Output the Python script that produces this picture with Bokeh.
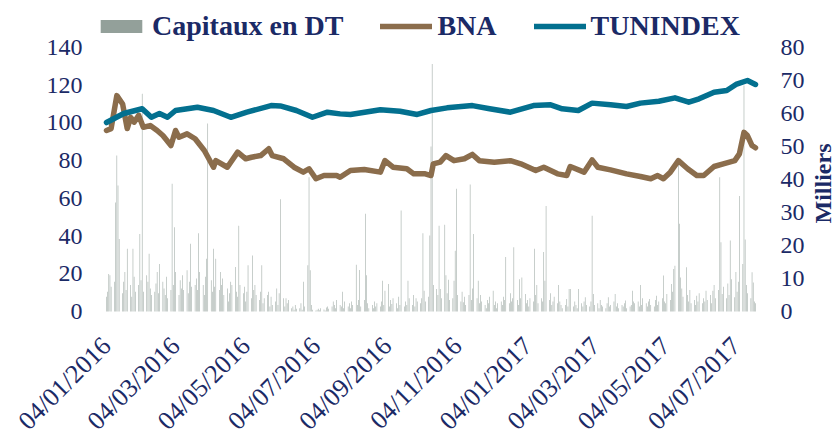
import math
import pandas as pd
from bokeh.plotting import figure
from bokeh.models import (Range1d, LinearAxis, FixedTicker, DatetimeTickFormatter,
                          Legend, LegendItem)
from bokeh.embed import file_html
from bokeh.resources import INLINE

# ---------------- data ----------------
tick_dates = ["2016-01-04", "2016-03-04", "2016-05-04", "2016-07-04", "2016-09-04",
              "2016-11-04", "2017-01-04", "2017-03-04", "2017-05-04", "2017-07-04"]
left_ticks = [0, 20, 40, 60, 80, 100, 120, 140]
right_ticks = [0, 10, 20, 30, 40, 50, 60, 70, 80]

tun_dates = ["2016-01-04", "2016-01-19", "2016-02-04", "2016-02-12", "2016-02-19", "2016-02-26",
             "2016-03-04", "2016-03-23", "2016-04-06", "2016-04-21", "2016-05-05", "2016-05-26",
             "2016-06-03", "2016-06-17", "2016-07-01", "2016-07-14", "2016-07-25", "2016-08-03",
             "2016-08-29", "2016-09-15", "2016-09-30", "2016-10-12", "2016-10-26", "2016-11-17",
             "2016-12-02", "2016-12-20", "2017-01-09", "2017-01-24", "2017-02-03", "2017-02-17",
             "2017-03-01", "2017-03-17", "2017-03-31", "2017-04-12", "2017-04-28", "2017-05-12",
             "2017-05-24", "2017-06-02", "2017-06-15", "2017-06-26", "2017-07-04", "2017-07-14",
             "2017-07-21"]
tun_values = [100.2, 105.0, 107.5, 103.0, 105.0, 103.0,
              106.6, 108.3, 106.6, 103.0, 105.7, 109.2,
              109.0, 106.6, 103.0, 105.7, 104.8, 104.5,
              107.0, 106.2, 104.5, 106.6, 108.0, 109.2,
              107.5, 105.7, 109.2, 109.6, 107.5, 106.6,
              110.5, 109.6, 108.7, 110.5, 111.5, 113.3,
              111.0, 112.8, 116.3, 117.2, 120.4, 122.5,
              120.4]

bna_dates = ["2016-01-04", "2016-01-08", "2016-01-13", "2016-01-18", "2016-01-22", "2016-01-25",
             "2016-01-28", "2016-02-01", "2016-02-05", "2016-02-11", "2016-02-17", "2016-02-22",
             "2016-02-29", "2016-03-04", "2016-03-07", "2016-03-14", "2016-03-21", "2016-03-29",
             "2016-04-06", "2016-04-08", "2016-04-18", "2016-04-27", "2016-05-04", "2016-05-09",
             "2016-05-17", "2016-05-24", "2016-05-27", "2016-06-06", "2016-06-15", "2016-06-23",
             "2016-06-28", "2016-07-04", "2016-07-11", "2016-07-22", "2016-07-25", "2016-08-03",
             "2016-08-15", "2016-08-29", "2016-09-02", "2016-09-09", "2016-09-21", "2016-09-27",
             "2016-10-07", "2016-10-12", "2016-10-14", "2016-10-20", "2016-10-25", "2016-11-01",
             "2016-11-10", "2016-11-17", "2016-11-23", "2016-12-06", "2016-12-20", "2016-12-29",
             "2017-01-11", "2017-01-18", "2017-01-30", "2017-02-07", "2017-02-10", "2017-02-22",
             "2017-03-01", "2017-03-06", "2017-03-17", "2017-03-31", "2017-04-12", "2017-04-21",
             "2017-04-27", "2017-05-02", "2017-05-08", "2017-05-15", "2017-05-23", "2017-05-31",
             "2017-06-06", "2017-06-15", "2017-06-23", "2017-07-03", "2017-07-07", "2017-07-11",
             "2017-07-14", "2017-07-18", "2017-07-21"]
bna_values = [96.0, 97.0, 114.5, 110.0, 97.0, 103.0,
              100.4, 104.0, 97.7, 98.6, 96.0, 93.3,
              88.0, 96.0, 92.4, 94.2, 91.6, 85.4,
              76.5, 80.0, 76.5, 84.5, 81.0, 81.8,
              82.7, 86.3, 82.7, 81.0, 76.5, 73.9,
              75.7, 70.4, 72.1, 72.1, 71.2, 74.8,
              75.3, 73.9, 80.0, 76.5, 75.7, 73.0,
              73.0, 72.1, 78.3, 79.2, 82.7, 80.0,
              81.0, 83.3, 80.0, 79.2, 80.0, 78.3,
              74.8, 76.5, 73.0, 72.1, 76.9, 73.9,
              80.4, 76.5, 75.1, 73.0, 71.6, 70.4,
              72.1, 70.4, 73.9, 80.0, 75.7, 72.1,
              72.1, 76.9, 78.3, 80.0, 83.6, 95.0,
              93.3, 88.0, 86.8]

# Daily traded capital (thousands of DT), one row per week (Mon..Fri), 04/01/2016 -> 21/07/2017
vol_values = [
    4.5, 6.0, 11.4, 11.0, 7.5,
    9.0, 33.0, 47.3, 38.2, 22.0,
    5.5, 9.0, 12.0, 6.5, 19.0,
    8.0, 4.5, 19.0, 10.5, 6.0,
    8.0, 23.5, 9.5, 66.0, 6.0,
    11.0, 9.0, 17.5, 7.0, 5.0,
    6.0, 8.5, 12.0, 5.5, 14.4,
    9.0, 7.0, 5.0, 10.5, 4.0,
    6.5, 38.7, 8.0, 25.5, 12.0,
    5.0, 9.5, 7.0, 11.0, 6.5,
    12.5, 5.5, 9.0, 20.5, 7.5,
    8.0, 10.0, 6.5, 23.7, 12.0,
    8.0, 5.0, 10.5, 16.0, 57.0,
    9.5, 6.0, 19.0, 7.5, 16.0,
    6.5, 12.0, 8.0, 10.0, 5.0,
    7.0, 3.0, 5.5, 9.0, 8.0,
    13.5, 6.0, 4.5, 26.0, 8.0,
    5.5, 7.5, 3.0, 6.0, 14.0,
    4.0, 17.0, 6.5, 8.0, 5.0,
    3.5, 6.0, 14.0, 2.5, 4.0,
    5.0, 6.0, 1.5, 4.5, 2.0,
    3.0, 7.0, 2.0, 5.5, 34.0,
    4.0, 1.5, 4.0, 2.5, 3.5,
    1.0, 1.5, 0.5, 2.0, 0.8,
    1.0, 2.5, 0.5, 9.0, 1.5,
    14.0, 40.7, 12.5, 2.0, 0.5,
    0.3, 0.5, 0.8, 0.4, 1.0,
    0.6, 0.3, 1.2, 1.5, 0.8,
    1.5, 3.0, 2.0, 1.0, 3.5,
    2.0, 1.5, 6.0, 1.0, 3.0,
    1.5, 2.5, 1.0, 3.0, 2.0,
    14.2, 2.0, 3.5, 12.6, 1.5,
    3.5, 29.6, 11.0, 2.5, 1.0,
    2.0, 1.0, 3.0, 1.5, 2.5,
    1.5, 3.0, 9.3, 2.0, 6.3,
    8.3, 1.5, 3.5, 2.3, 4.0,
    2.5, 1.0, 4.5, 2.0, 30.6,
    1.5, 3.0, 2.0, 9.3, 4.0,
    2.0, 5.0, 1.5, 4.0, 3.0,
    2.5, 4.0, 23.7, 6.3, 3.0,
    4.5, 23.0, 50.0, 75.0, 8.0,
    6.8, 5.0, 26.0, 6.8, 4.0,
    26.3, 11.0, 5.5, 9.6, 3.5,
    4.0, 9.3, 18.4, 37.2, 5.0,
    3.0, 6.0, 2.8, 4.5, 2.0,
    5.0, 38.5, 3.5, 7.0, 23.5,
    4.0, 9.3, 2.5, 5.0, 3.0,
    2.0, 1.0, 3.5, 2.5, 4.5,
    6.3, 2.0, 3.0, 1.0, 2.5,
    3.0, 2.0, 4.5, 3.5, 16.5,
    2.5, 5.5, 3.0, 4.0, 19.5,
    3.5, 2.0, 9.8, 4.0, 10.3,
    5.3, 2.5, 3.5, 1.5, 4.0,
    3.0, 19.0, 5.0, 8.0, 2.5,
    4.0, 3.0, 18.0, 9.3, 32.0,
    3.5, 5.5, 2.0, 3.0, 4.5,
    2.5, 8.0, 3.0, 2.0, 1.0,
    2.0, 3.8, 1.5, 6.8, 6.8,
    1.5, 3.0, 2.0, 1.0, 6.8,
    2.5, 1.5, 3.0, 4.3, 2.0,
    1.5, 3.0, 29.0, 5.3, 2.0,
    2.5, 1.0, 3.5, 2.0, 1.5,
    1.0, 2.5, 4.3, 1.5, 2.0,
    3.0, 5.3, 1.5, 2.5, 1.0,
    2.0, 1.5, 2.5, 3.3, 1.0,
    1.5, 2.0, 6.3, 3.0, 2.5,
    3.0, 1.5, 8.0, 2.0, 4.0,
    2.5, 1.5, 3.0, 3.8, 2.0,
    1.5, 3.5, 4.8, 2.0, 3.0,
    4.0, 10.9, 3.0, 2.5, 5.3,
    3.5, 8.3, 6.0, 12.9, 13.9,
    46.3, 26.6, 10.3, 7.0, 4.5,
    13.4, 5.0, 3.0, 6.5, 2.5,
    3.5, 2.0, 4.8, 3.0, 5.5,
    2.5, 4.0, 3.0, 6.3, 3.5,
    5.0, 2.5, 6.3, 8.0, 4.0,
    6.5, 40.7, 21.0, 5.3, 7.5,
    4.0, 8.5, 5.0, 21.5, 9.8,
    4.3, 12.0, 6.0, 9.0, 35.0,
    14.4, 68.5, 21.8, 8.0, 5.5,
    4.0, 11.9, 8.8, 3.0, 2.5,
]
vol_start = "2016-01-04"

# ---------------- layout & styling ----------------
W, H = 834, 439
NAVY = "#1B2A66"
SERIF = "Liberation Serif"
BAR_C = "#93A09A"
BNA_C = "#8B6D4C"
TUN_C = "#03708F"

DAY = 86400000
T0 = pd.Timestamp(vol_start).value // 10**6     # first trading day
X0_PX = 106.0            # pixel column of the first trading day
PX_PER_DAY = 1.1507
ZERO_PX = 311.0          # pixel row of value 0
PX_PER_UNIT = 264.0 / 140.0   # left axis scale
RIGHT_MAX, LEFT_MAX = 80.0, 140.0

def px_to_ms(px):
    return T0 + (px - X0_PX) / PX_PER_DAY * DAY

x_start, x_end = px_to_ms(0), px_to_ms(W)
y_top = ZERO_PX / PX_PER_UNIT
y_bot = -(H - ZERO_PX) / PX_PER_UNIT
k = RIGHT_MAX / LEFT_MAX

vol_dates = pd.bdate_range(vol_start, periods=len(vol_values))
tun_x = pd.to_datetime(tun_dates)
bna_x = pd.to_datetime(bna_dates)
tick_ms = [pd.Timestamp(d).value // 10**6 for d in tick_dates]

p = figure(width=W, height=H, x_axis_type="datetime",
           x_range=Range1d(x_start, x_end), y_range=Range1d(y_bot, y_top),
           output_backend="svg", toolbar_location=None,
           min_border_left=0, min_border_right=0, min_border_top=0, min_border_bottom=0)
p.extra_y_ranges = {"m": Range1d(y_bot * k, y_top * k)}
p.background_fill_color = "white"
p.border_fill_color = "white"
p.outline_line_color = None
p.xgrid.visible = False
p.ygrid.visible = False

bars = p.vbar(x=vol_dates, top=vol_values, width=0.45 * DAY, y_range_name="m",
              fill_color=BAR_C, line_color=None)
bna = p.line(bna_x, bna_values, line_color=BNA_C, line_width=5.5,
             line_join="round", line_cap="round")
tun = p.line(tun_x, tun_values, line_color=TUN_C, line_width=5.5,
             line_join="round", line_cap="round")

def style_axis(ax, size):
    ax.axis_line_color = None
    ax.major_tick_line_color = None
    ax.minor_tick_line_color = None
    ax.major_tick_out = 0
    ax.major_tick_in = 0
    ax.minor_tick_out = 0
    ax.major_label_text_font = SERIF
    ax.major_label_text_font_size = size
    ax.major_label_text_color = NAVY

ya = p.yaxis[0]
ya.ticker = FixedTicker(ticks=left_ticks)
style_axis(ya, "24px")
ya.major_label_standoff = 13
ya.fixed_location = px_to_ms(95)

ra = LinearAxis(y_range_name="m", ticker=FixedTicker(ticks=right_ticks))
style_axis(ra, "24px")
ra.major_label_standoff = 13
ra.fixed_location = px_to_ms(767)
ra.bounds = (-26.7, RIGHT_MAX)
ra.axis_label = "Milliers"
if "axis_label_orientation" in ra.properties():
    ra.axis_label_orientation = math.pi / 2
ra.axis_label_standoff = 15
ra.axis_label_text_font = SERIF
ra.axis_label_text_font_style = "bold"
ra.axis_label_text_font_size = "24px"
ra.axis_label_text_color = NAVY
p.add_layout(ra, "right")

xa = p.xaxis[0]
xa.ticker = FixedTicker(ticks=tick_ms)
fmt = "%d/%m/%Y"
xa.formatter = DatetimeTickFormatter(microseconds=fmt, milliseconds=fmt, seconds=fmt, minsec=fmt,
                                     minutes=fmt, hourmin=fmt, hours=fmt, days=fmt,
                                     months=fmt, years=fmt)
style_axis(xa, "26px")
xa.major_label_orientation = math.pi / 4
xa.major_label_standoff = 30
xa.fixed_location = 0

legend = Legend(items=[LegendItem(label="Capitaux en DT", renderers=[bars]),
                       LegendItem(label="BNA", renderers=[bna]),
                       LegendItem(label="TUNINDEX", renderers=[tun])],
                orientation="horizontal", location=(95, 397), padding=0, margin=0,
                spacing=37, label_standoff=5, glyph_width=52, glyph_height=16,
                label_text_font=SERIF, label_text_font_style="bold",
                label_text_font_size="28px", label_text_color=NAVY,
                border_line_color=None, background_fill_alpha=0)
p.add_layout(legend)

open("out.html", "w").write(file_html(p, INLINE))
